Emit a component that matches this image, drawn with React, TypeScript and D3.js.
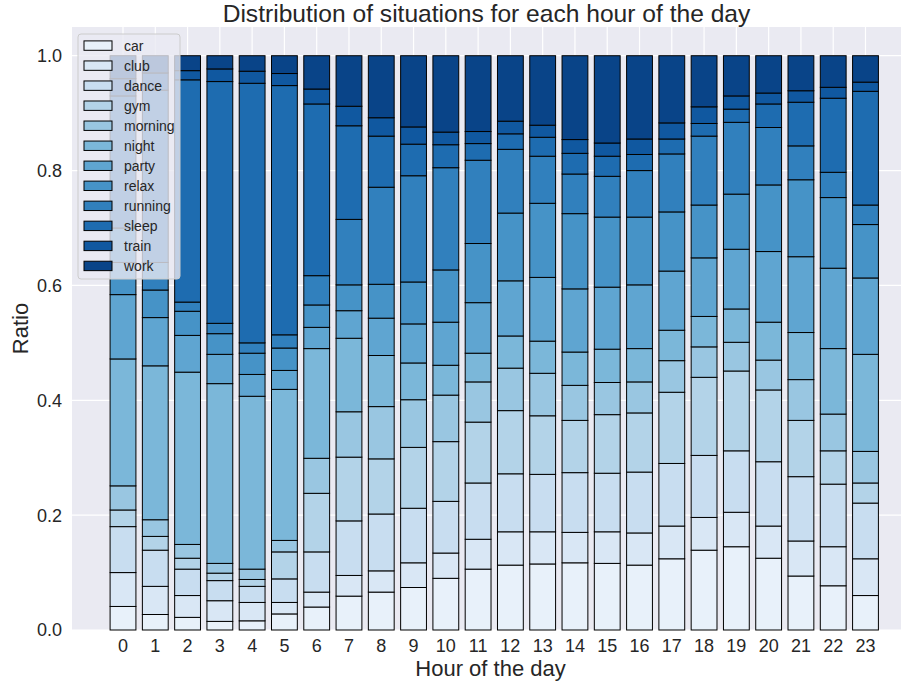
import React, { useEffect, useRef } from 'react';
import * as d3 from 'd3';

const hours = d3.range(0, 24);

const situations = ['car', 'club', 'dance', 'gym', 'morning', 'night', 'party', 'relax', 'running', 'sleep', 'train', 'work'];

// share of each situation per hour (0..23)
const car = [0.041, 0.027, 0.022, 0.015, 0.016, 0.028, 0.040, 0.059, 0.066, 0.074, 0.090, 0.106, 0.113, 0.115, 0.117, 0.116, 0.113, 0.124, 0.139, 0.145, 0.125, 0.094, 0.077, 0.060];
const club = [0.059, 0.049, 0.038, 0.036, 0.032, 0.020, 0.026, 0.036, 0.037, 0.043, 0.044, 0.052, 0.058, 0.056, 0.053, 0.055, 0.056, 0.057, 0.057, 0.060, 0.056, 0.061, 0.068, 0.064];
const dance = [0.080, 0.063, 0.046, 0.035, 0.028, 0.041, 0.070, 0.095, 0.099, 0.095, 0.090, 0.098, 0.101, 0.100, 0.104, 0.102, 0.106, 0.109, 0.108, 0.107, 0.112, 0.112, 0.109, 0.097];
const gym = [0.029, 0.024, 0.019, 0.013, 0.012, 0.047, 0.102, 0.111, 0.096, 0.106, 0.104, 0.106, 0.110, 0.102, 0.091, 0.102, 0.103, 0.124, 0.136, 0.139, 0.125, 0.098, 0.058, 0.035];
const morning = [0.042, 0.029, 0.024, 0.017, 0.018, 0.020, 0.061, 0.079, 0.091, 0.083, 0.081, 0.070, 0.074, 0.074, 0.061, 0.056, 0.054, 0.055, 0.053, 0.050, 0.052, 0.071, 0.064, 0.055];
const night = [0.221, 0.268, 0.300, 0.313, 0.301, 0.263, 0.191, 0.128, 0.089, 0.064, 0.052, 0.050, 0.056, 0.056, 0.058, 0.058, 0.058, 0.053, 0.053, 0.058, 0.066, 0.082, 0.114, 0.169];
const party = [0.112, 0.084, 0.064, 0.051, 0.038, 0.033, 0.037, 0.048, 0.065, 0.068, 0.075, 0.088, 0.096, 0.111, 0.110, 0.108, 0.111, 0.103, 0.102, 0.104, 0.123, 0.132, 0.140, 0.133];
const relax = [0.056, 0.048, 0.042, 0.036, 0.037, 0.039, 0.039, 0.045, 0.059, 0.073, 0.091, 0.103, 0.118, 0.129, 0.131, 0.122, 0.118, 0.103, 0.092, 0.096, 0.116, 0.134, 0.123, 0.093];
const running = [0.060, 0.048, 0.016, 0.018, 0.018, 0.023, 0.051, 0.114, 0.169, 0.185, 0.178, 0.145, 0.111, 0.082, 0.069, 0.071, 0.081, 0.101, 0.120, 0.125, 0.100, 0.059, 0.044, 0.034];
const sleep = [0.230, 0.300, 0.387, 0.421, 0.452, 0.434, 0.299, 0.163, 0.089, 0.055, 0.040, 0.029, 0.027, 0.033, 0.036, 0.035, 0.028, 0.026, 0.022, 0.023, 0.041, 0.076, 0.129, 0.198];
const train = [0.030, 0.030, 0.016, 0.022, 0.021, 0.021, 0.026, 0.034, 0.032, 0.030, 0.022, 0.021, 0.022, 0.021, 0.024, 0.023, 0.027, 0.028, 0.029, 0.023, 0.019, 0.020, 0.019, 0.016];
const work = [0.040, 0.030, 0.026, 0.023, 0.027, 0.031, 0.058, 0.088, 0.108, 0.124, 0.133, 0.132, 0.114, 0.121, 0.146, 0.152, 0.145, 0.117, 0.089, 0.070, 0.065, 0.061, 0.055, 0.046];

const series = [car, club, dance, gym, morning, night, party, relax, running, sleep, train, work];

const yTicks = [0, 0.2, 0.4, 0.6, 0.8, 1.0];

const width = 907;
const height = 683;
const plotLeft = 72;
const plotRight = 901;
const plotTop = 27;
const plotBottom = 630;

const font = "'Liberation Sans', Arial, sans-serif";
const textColor = '#262626';

const App: React.FC = () => {
    const svgRef = useRef<SVGSVGElement | null>(null);

    useEffect(() => {
        const svg = d3.select(svgRef.current);
        svg.selectAll('*').remove();

        const rows = hours.map((h, i) => {
            const row: Record<string, number> = { hour: h };
            situations.forEach((s, k) => { row[s] = series[k][i]; });
            return row;
        });

        const stacked = d3.stack<Record<string, number>>()
            .keys(situations)
            .offset(d3.stackOffsetExpand)(rows);

        const x = d3.scaleLinear().domain([-1.58, 24.1]).range([plotLeft, plotRight]);
        const y = d3.scaleLinear().domain([0, 1.05]).range([plotBottom, plotTop]);
        const color = d3.scaleOrdinal<string, string>()
            .domain(situations)
            .range(situations.map((_, i) => d3.interpolateBlues((i + 1) / 13)));

        const barW = x(0.8) - x(0);

        // background
        svg.append('rect')
            .attr('x', plotLeft).attr('y', plotTop)
            .attr('width', plotRight - plotLeft).attr('height', plotBottom - plotTop)
            .attr('fill', '#eaeaf2');

        // grid
        svg.append('g').selectAll('line.h').data(yTicks).join('line')
            .attr('x1', plotLeft).attr('x2', plotRight)
            .attr('y1', d => y(d)).attr('y2', d => y(d))
            .attr('stroke', '#fff').attr('stroke-width', 1.2);
        svg.append('g').selectAll('line.v').data(hours).join('line')
            .attr('x1', d => x(d)).attr('x2', d => x(d))
            .attr('y1', plotTop).attr('y2', plotBottom)
            .attr('stroke', '#fff').attr('stroke-width', 1.2);

        // bars
        svg.append('g').selectAll('g').data(stacked).join('g')
            .attr('fill', d => color(d.key))
            .selectAll('rect').data(d => d).join('rect')
            .attr('x', d => x(d.data.hour) - barW / 2)
            .attr('width', barW)
            .attr('y', d => y(d[1]))
            .attr('height', d => y(d[0]) - y(d[1]))
            .attr('stroke', '#000')
            .attr('stroke-width', 1);

        // y ticks
        svg.append('g').selectAll('text').data(yTicks).join('text')
            .attr('x', plotLeft - 10).attr('y', d => y(d))
            .attr('dy', '0.36em')
            .attr('text-anchor', 'end')
            .attr('font-family', font).attr('font-size', 18).attr('fill', textColor)
            .text(d => d3.format('.1f')(d));

        // x ticks
        svg.append('g').selectAll('text').data(hours).join('text')
            .attr('x', d => x(d)).attr('y', plotBottom + 16)
            .attr('dy', '0.36em')
            .attr('text-anchor', 'middle')
            .attr('font-family', font).attr('font-size', 18).attr('fill', textColor)
            .text(d => String(d));

        // labels
        svg.append('text')
            .attr('x', (plotLeft + plotRight) / 2 + 4).attr('y', 676)
            .attr('text-anchor', 'middle')
            .attr('font-family', font).attr('font-size', 22).attr('fill', textColor)
            .text('Hour of the day');
        svg.append('text')
            .attr('transform', `translate(28, ${(plotTop + plotBottom) / 2}) rotate(-90)`)
            .attr('text-anchor', 'middle')
            .attr('font-family', font).attr('font-size', 22).attr('fill', textColor)
            .text('Ratio');
        svg.append('text')
            .attr('x', (plotLeft + plotRight) / 2).attr('y', 22)
            .attr('text-anchor', 'middle')
            .attr('font-family', font).attr('font-size', 24.6).attr('fill', textColor)
            .text('Distribution of situations for each hour of the day');

        // legend
        const legend = svg.append('g');
        legend.append('rect')
            .attr('x', 78).attr('y', 34).attr('width', 102).attr('height', 245)
            .attr('rx', 3)
            .attr('fill', '#eaeaf2').attr('fill-opacity', 0.8)
            .attr('stroke', '#cccccc').attr('stroke-width', 1);
        const items = legend.selectAll('g.item').data(situations).join('g')
            .attr('transform', (_, i) => `translate(0, ${45.6 + i * 20.03})`);
        items.append('rect')
            .attr('x', 84).attr('y', -4.7).attr('width', 28).attr('height', 9.4)
            .attr('fill', d => color(d))
            .attr('stroke', '#000').attr('stroke-width', 1);
        items.append('text')
            .attr('x', 124).attr('dy', '0.35em')
            .attr('font-family', font).attr('font-size', 14).attr('fill', textColor)
            .text(d => d);
    }, []);

    return (
        <svg ref={svgRef} width={width} height={height}
            style={{ position: 'absolute', left: 0, top: 0, display: 'block' }} />
    );
};

export default App;
